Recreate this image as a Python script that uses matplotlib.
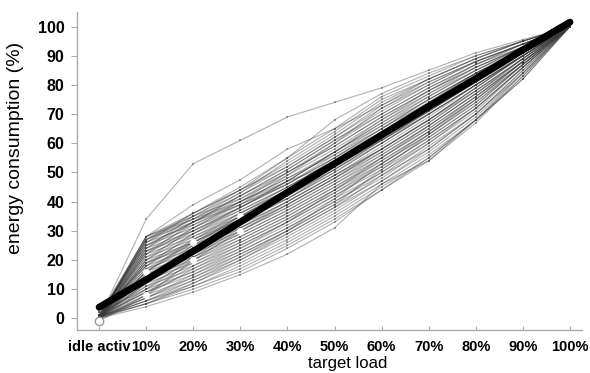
import numpy as np
import matplotlib.pyplot as plt

plt.rcParams['font.family'] = ['Liberation Sans', 'DejaVu Sans']

# ====================================
# data
# ====================================

load_labels = ["idle activ", "10%", "20%", "30%", "40%", "50%",
               "60%", "70%", "80%", "90%", "100%"]

# individual machines: energy (%) at each target load
machines = [
    [0.5, 28, 36, 44, 53, 63, 74, 82, 89, 95, 100],
    [0.5, 27, 35, 43, 52, 62, 72, 80, 88, 94, 100],
    [1, 28, 35, 41, 50, 60, 70, 79, 87, 94, 100],
    [0.5, 26, 36, 44, 55, 68, 77, 84, 90, 95, 100],
    [0, 27, 34, 42, 50, 59, 69, 78, 86, 93, 100],
    [1, 25, 33, 41, 49, 58, 68, 77, 86, 93, 100],
    [0.5, 26, 32, 39, 47, 57, 67, 76, 85, 93, 100],
    [0, 24, 33, 42, 51, 61, 71, 80, 88, 94, 100],
    [1, 25, 31, 38, 46, 55, 65, 75, 84, 92, 100],
    [0.5, 24, 30, 37, 45, 54, 64, 74, 83, 92, 100],
    [0, 23, 32, 40, 48, 57, 66, 75, 84, 92, 100],
    [0.5, 22, 31, 39, 49, 60, 72, 81, 88, 94, 100],
    [1, 23, 29, 36, 44, 53, 63, 73, 83, 91, 100],
    [0, 22, 28, 35, 43, 52, 62, 72, 82, 91, 100],
    [0.5, 21, 30, 38, 46, 56, 66, 76, 85, 93, 100],
    [0.5, 20, 29, 37, 45, 54, 64, 74, 84, 92, 100],
    [1, 21, 27, 34, 42, 51, 61, 71, 81, 91, 100],
    [0, 20, 26, 33, 41, 50, 60, 70, 80, 90, 100],
    [0.5, 19, 28, 36, 44, 53, 62, 72, 82, 91, 100],
    [1, 18, 27, 35, 44, 55, 65, 75, 84, 92, 100],
    [0.5, 19, 25, 32, 40, 49, 59, 69, 80, 90, 100],
    [0, 18, 24, 31, 39, 48, 58, 68, 79, 90, 100],
    [0.5, 17, 26, 34, 43, 52, 61, 71, 81, 91, 100],
    [1, 17, 23, 30, 38, 47, 57, 67, 78, 89, 100],
    [0.5, 16, 25, 33, 41, 50, 60, 70, 80, 90, 100],
    [0, 16, 22, 29, 37, 46, 56, 66, 77, 89, 100],
    [0.5, 15, 24, 32, 40, 49, 58, 68, 79, 90, 100],
    [1, 15, 21, 28, 36, 45, 55, 65, 76, 88, 100],
    [0.5, 14, 23, 31, 39, 48, 57, 67, 78, 89, 100],
    [0, 14, 20, 27, 35, 44, 54, 64, 75, 88, 100],
    [0.5, 13, 22, 30, 38, 47, 56, 66, 77, 89, 100],
    [1, 13, 19, 26, 34, 43, 53, 63, 74, 87, 100],
    [0.5, 12, 21, 29, 37, 46, 55, 65, 76, 88, 100],
    [0, 12, 18, 25, 33, 42, 52, 62, 73, 87, 100],
    [0.5, 11, 20, 28, 36, 45, 54, 64, 75, 88, 100],
    [1, 11, 17, 24, 32, 41, 50, 61, 72, 86, 100],
    [0.5, 10, 19, 27, 35, 44, 53, 63, 74, 87, 100],
    [0, 10, 16, 23, 31, 40, 49, 60, 71, 86, 100],
    [0.5, 9, 18, 26, 34, 43, 52, 62, 73, 87, 100],
    [1, 9, 15, 22, 30, 39, 48, 59, 70, 85, 100],
    [0.5, 8, 17, 25, 33, 42, 51, 61, 72, 86, 100],
    [0, 8, 14, 21, 29, 38, 47, 58, 70, 85, 100],
    [0.5, 7, 13, 20, 28, 37, 47, 57, 69, 84, 100],
    [0.5, 7, 15, 23, 31, 40, 50, 60, 72, 86, 100],
    [0, 6, 12, 19, 27, 36, 46, 56, 68, 84, 100],
    [0.5, 6, 11, 18, 26, 35, 45, 55, 68, 83, 100],
    [0, 5, 11, 17, 25, 34, 44, 54, 67, 83, 100],
    [0.5, 5, 10, 16, 24, 33, 44, 55, 68, 82, 100],
    [0, 4, 9, 15, 22, 31, 46, 54, 68, 82, 100],
    [0.5, 5, 12, 20, 29, 38, 49, 58, 70, 84, 100],
    [0, 27, 36, 45, 55, 65, 76, 83, 90, 95, 100],
    [0.5, 26, 34, 43, 54, 64, 75, 82, 89, 95, 100],
    [1, 24, 35, 44, 52, 62, 73, 81, 88, 94, 100],
    [0.5, 25, 33, 40, 48, 56, 65, 74, 84, 92, 100],
    [0, 23, 30, 38, 47, 57, 68, 78, 87, 94, 100],
    [1, 22, 33, 42, 51, 61, 70, 79, 87, 93, 100],
    [0.5, 20, 31, 40, 50, 59, 69, 78, 86, 93, 100],
    [0, 19, 26, 34, 42, 52, 63, 73, 83, 91, 100],
    [2, 18, 29, 38, 47, 57, 67, 77, 85, 92, 100],
    [1, 16, 27, 36, 45, 54, 63, 73, 82, 91, 100],
    [3, 14, 25, 35, 44, 53, 62, 71, 81, 90, 100],
    [0.5, 12, 23, 33, 42, 51, 60, 70, 80, 90, 100],
    [2, 10, 21, 31, 40, 49, 58, 68, 78, 89, 100],
    [0.5, 27, 33, 39, 46, 55, 64, 73, 83, 92, 100],
    [0, 28, 34, 40, 47, 53, 61, 70, 80, 90, 100],
    [0.5, 9, 16, 24, 33, 44, 55, 66, 77, 88, 100],
    [0, 7, 14, 22, 30, 39, 51, 63, 75, 87, 100],
    [0.5, 6, 13, 21, 30, 41, 53, 64, 76, 88, 100],
    [0, 34, 53, 61, 69, 74, 79, 85, 91, 95.5, 100],
    [0, 28, 39, 47.5, 58, 65, 73, 82, 89, 95, 100],
]

# two machines drawn with white markers
white_a = [-1, 16, 26, 35, 41, 51, 61, 71, 81, 91, 100]
white_b = [-1, 8, 20, 30, 39, 48, 58, 68, 79, 90, 100]

# average curve (thick black)
average = [3.8, 13.2, 23.0, 33.0, 43.2, 53.0, 62.8, 72.6, 82.2, 92.0, 101.5]

# ====================================
# plot
# ====================================

x = np.arange(len(load_labels))

fig = plt.figure(figsize=(5.9, 3.73), dpi=100)
ax = fig.add_axes([0.1305, 0.1153, 0.8555, 0.8527])

for m in machines:
    ax.plot(x, m, color='#3a3a3a', alpha=0.4, linewidth=0.8,
            marker='s', markersize=1.6, markeredgewidth=0, zorder=2)

for w in (white_a, white_b):
    ax.plot(x, w, color='#444444', alpha=0.5, linewidth=0.8, zorder=3)
    ax.plot(x[1:4], w[1:4], linestyle='none', marker='o', markersize=4,
            markerfacecolor='white', markeredgecolor='white', zorder=3)

ax.plot(x[0], white_a[0], linestyle='none', marker='o', markersize=6,
        markerfacecolor='white', markeredgecolor='#999999', zorder=5)

ax.plot(x, average, color='black', linewidth=5, solid_capstyle='round',
        zorder=4)

ax.set_xlim(-0.47, 10.25)
ax.set_ylim(-4, 105)

ax.set_xticks(x)
ax.set_xticklabels(load_labels, fontsize=10.5, fontweight='bold')
ax.set_yticks(np.arange(0, 101, 10))
ax.set_yticklabels([str(v) for v in range(0, 101, 10)],
                   fontsize=11.5, fontweight='bold')

ax.tick_params(axis='x', direction='in', length=3, color='#aaaaaa', pad=7)
ax.tick_params(axis='y', direction='out', length=4, color='#aaaaaa', pad=5)

for s in ['top', 'right']:
    ax.spines[s].set_visible(False)
for s in ['left', 'bottom']:
    ax.spines[s].set_color('#aaaaaa')
    ax.spines[s].set_linewidth(1.0)

ax.set_xlabel("target load", fontsize=12)
ax.set_ylabel("energy consumption (%)", fontsize=14)
ax.xaxis.set_label_coords(0.536, -0.082)
ax.yaxis.set_label_coords(-0.105, 0.572)

fig.savefig("out.png", dpi=100)
